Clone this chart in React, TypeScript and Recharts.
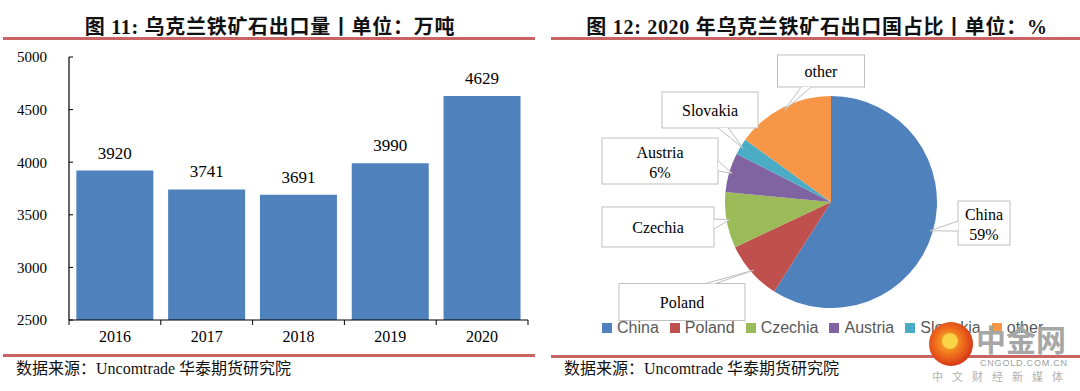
import React from 'react';
import { BarChart, Bar, XAxis, YAxis, LabelList, PieChart, Pie, Cell, Legend } from 'recharts';

// 图11 data
const years = ['2016', '2017', '2018', '2019', '2020'];
const exportVolume = [3920, 3741, 3691, 3990, 4629];
const yTicks = [2500, 3000, 3500, 4000, 4500, 5000];

// 图12 data
const countries = ['China', 'Poland', 'Czechia', 'Austria', 'Slovakia', 'other'];
const shares = [59, 9, 8.5, 6, 2.5, 15];
const countryColors = ['#4f81bd', '#c0504d', '#9bbb59', '#8064a2', '#4bacc6', '#f79646'];
const showPercent = ['China', 'Austria'];

const barData = years.map((year, i) => ({ year, value: exportVolume[i] }));
const pieData = countries.map((name, i) => ({ name, value: shares[i] }));

const SERIF = "'Liberation Serif', 'Times New Roman', 'Noto Sans CJK SC', serif";
const RED_LINE = '#c96464';

// bar chart layout
const BAR_W = 540;
const BAR_H = 350;
const BAR_MARGIN = { top: 57, right: 12, left: 0, bottom: 0 };
const Y_AXIS_W = 69;
const X_TICK_GAP = 11;
const BAND = (BAR_W - BAR_MARGIN.left - BAR_MARGIN.right - Y_AXIS_W) / years.length;

// callout box placement relative to the pie centre
const calloutBoxes: Record<string, { dx: number; dy: number; w: number; h: number }> = {
  China: { dx: 153, dy: 21, w: 52, h: 44 },
  Poland: { dx: -149, dy: 100, w: 126, h: 37 },
  Czechia: { dx: -173, dy: 25, w: 112, h: 40 },
  Austria: { dx: -171, dy: -41, w: 116, h: 46 },
  Slovakia: { dx: -121, dy: -92, w: 96, h: 36 },
  other: { dx: -10, dy: -131, w: 87, h: 32 },
};

const XTick = (props: any) => {
  const { x, y, payload, index } = props;
  const axisY = y - X_TICK_GAP;
  return (
    <g>
      <line x1={x - BAND / 2} y1={axisY} x2={x - BAND / 2} y2={axisY + 5} stroke="#000" />
      {index === years.length - 1 && (
        <line x1={x + BAND / 2} y1={axisY} x2={x + BAND / 2} y2={axisY + 5} stroke="#000" />
      )}
      <text x={x} y={y} dy="0.71em" textAnchor="middle" fontFamily={SERIF} fontSize={16} fill="#000">
        {payload.value}
      </text>
    </g>
  );
};

const clamp = (v: number, lo: number, hi: number) => Math.max(lo, Math.min(hi, v));

const renderCallout = (props: any) => {
  const { cx, cy, midAngle, outerRadius, percent, index } = props;
  const name = countries[index];
  const box = calloutBoxes[name];
  const RAD = Math.PI / 180;
  const tx = cx + (outerRadius - 3) * Math.cos(-midAngle * RAD);
  const ty = cy + (outerRadius - 3) * Math.sin(-midAngle * RAD);
  const bx = cx + box.dx;
  const by = cy + box.dy;
  const left = bx - box.w / 2;
  const top = by - box.h / 2;

  // wedge base on the box side that faces the slice
  let b1: [number, number];
  let b2: [number, number];
  const rx = Math.abs(tx - bx) / (box.w / 2);
  const ry = Math.abs(ty - by) / (box.h / 2);
  if (rx >= ry) {
    const ex = tx > bx ? left + box.w : left;
    const yc = clamp(by + (ty - by) * 0.4, top + 7, top + box.h - 7);
    b1 = [ex, yc - 5];
    b2 = [ex, yc + 5];
  } else {
    const ey = ty > by ? top + box.h : top;
    const xc = clamp(bx + (tx - bx) * 0.4, left + 7, left + box.w - 7);
    b1 = [xc - 5, ey];
    b2 = [xc + 5, ey];
  }
  const pct = `${Math.round(percent * 100)}%`;
  const twoLines = showPercent.includes(name);

  return (
    <g>
      <rect x={left} y={top} width={box.w} height={box.h} fill="#fff" stroke="#bfbfbf" strokeWidth={1} />
      <path d={`M${b1[0]},${b1[1]} L${tx},${ty} L${b2[0]},${b2[1]}`} fill="#fff" stroke="#bfbfbf" strokeWidth={1} />
      <text x={bx} y={twoLines ? by - 9 : by} textAnchor="middle" dominantBaseline="central" fontFamily={SERIF} fontSize={16} fill="#000">
        {name}
      </text>
      {twoLines && (
        <text x={bx} y={by + 11} textAnchor="middle" dominantBaseline="central" fontFamily={SERIF} fontSize={16} fill="#000">
          {pct}
        </text>
      )}
    </g>
  );
};

const renderLegend = () => (
  <div style={{ display: 'flex', alignItems: 'center', fontFamily: "'Liberation Sans', Arial, sans-serif", fontSize: 16, lineHeight: '18px', color: '#595959' }}>
    {countries.map((c, i) => (
      <div key={c} style={{ display: 'flex', alignItems: 'center', marginRight: 11 }}>
        <span style={{ display: 'inline-block', width: 10, height: 10, background: countryColors[i], marginRight: 5 }} />
        <span>{c}</span>
      </div>
    ))}
  </div>
);

const titleStyle: React.CSSProperties = {
  position: 'absolute',
  top: 16,
  textAlign: 'center',
  fontFamily: SERIF,
  fontWeight: 'bold',
  fontSize: 20,
  lineHeight: '22px',
  letterSpacing: 0.7,
  color: '#111',
  whiteSpace: 'nowrap',
};

const sourceStyle: React.CSSProperties = {
  position: 'absolute',
  top: 359,
  fontFamily: SERIF,
  fontSize: 16,
  lineHeight: '20px',
  color: '#111',
  whiteSpace: 'nowrap',
};

export default function App() {
  return (
    <div style={{ position: 'absolute', left: 0, top: 0, width: 1080, height: 391, background: '#fff', overflow: 'hidden' }}>
      <div style={{ ...titleStyle, left: 0, width: 540 }}>图 11: 乌克兰铁矿石出口量丨单位：万吨</div>
      <div style={{ ...titleStyle, left: 554, width: 526 }}>图 12: 2020 年乌克兰铁矿石出口国占比丨单位：%</div>
      <div style={{ position: 'absolute', left: 3, top: 37, width: 532, height: 3, background: RED_LINE }} />
      <div style={{ position: 'absolute', left: 551, top: 37, width: 529, height: 3, background: RED_LINE }} />

      <div style={{ position: 'absolute', left: 0, top: 0 }}>
        <BarChart width={BAR_W} height={BAR_H} data={barData} margin={BAR_MARGIN} barCategoryGap="8%">
          <YAxis
            domain={[2500, 5000]}
            ticks={yTicks}
            width={Y_AXIS_W}
            axisLine={{ stroke: '#000', strokeWidth: 1.2 }}
            tickLine={{ stroke: '#000' }}
            tickSize={-4}
            tickMargin={26}
            tick={{ fontFamily: SERIF, fontSize: 15, fill: '#000' }}
            allowDataOverflow
          />
          <XAxis
            dataKey="year"
            height={30}
            axisLine={{ stroke: '#000', strokeWidth: 1.2 }}
            tickLine={false}
            tickSize={0}
            tickMargin={X_TICK_GAP}
            tick={<XTick />}
            interval={0}
          />
          <Bar dataKey="value" fill="#4f81bd" isAnimationActive={false}>
            <LabelList dataKey="value" position="top" offset={12} style={{ fontFamily: SERIF, fontSize: 17, fill: '#000' }} />
          </Bar>
        </BarChart>
      </div>

      <div style={{ position: 'absolute', left: 540, top: 0 }}>
        <PieChart width={540} height={350}>
          <Pie
            data={pieData}
            dataKey="value"
            nameKey="name"
            cx={286}
            cy={197}
            outerRadius={106}
            startAngle={90}
            endAngle={-270}
            stroke="none"
            label={renderCallout}
            labelLine={false}
            isAnimationActive={false}
          >
            {pieData.map((entry, i) => (
              <Cell key={entry.name} fill={countryColors[i]} />
            ))}
          </Pie>
          <Legend content={renderLegend} wrapperStyle={{ position: 'absolute', left: 62, top: 319, width: 'auto' }} />
        </PieChart>
      </div>

      <div style={{ position: 'absolute', left: 3, top: 354, width: 532, height: 3, background: RED_LINE }} />
      <div style={{ position: 'absolute', left: 551, top: 355, width: 529, height: 3, background: RED_LINE }} />
      <div style={{ ...sourceStyle, left: 16 }}>数据来源：Uncomtrade 华泰期货研究院</div>
      <div style={{ ...sourceStyle, left: 564 }}>数据来源：Uncomtrade 华泰期货研究院</div>

      {/* cngold watermark */}
      <svg width={1080} height={391} style={{ position: 'absolute', left: 0, top: 0, pointerEvents: 'none' }}>
        <defs>
          <radialGradient id="wm" cx="45%" cy="45%" r="60%">
            <stop offset="0%" stopColor="#f9c02a" />
            <stop offset="55%" stopColor="#ee6a1c" />
            <stop offset="100%" stopColor="#d22f16" />
          </radialGradient>
        </defs>
        <circle cx={951} cy={344} r={22} fill="url(#wm)" />
        <circle cx={950} cy={341} r={8} fill="#fbd84a" opacity={0.9} />
        <text x={976} y={351} fontFamily="'Noto Sans CJK SC', sans-serif" fontWeight="bold" fontSize={30} fill="#a6a6a6">中金网</text>
        <text x={980} y={366} fontFamily="'Liberation Sans', sans-serif" fontSize={9} letterSpacing={0.8} fill="#a0a0a0">CNGOLD.COM.CN</text>
        <text x={932} y={381} fontFamily="'Noto Sans CJK SC', sans-serif" fontSize={11} letterSpacing={9} fill="#b0b0b0">中文财经新媒体</text>
      </svg>
    </div>
  );
}
